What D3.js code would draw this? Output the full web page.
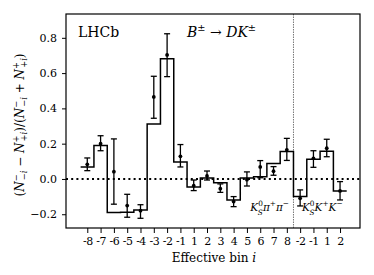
<!DOCTYPE html>
<html>
<head>
<meta charset="utf-8">
<script src="https://cdn.jsdelivr.net/npm/d3@7"></script>
<style>
  body { margin: 0; background: #fff; }
  svg { display: block; }
  .axis text { font-family: "DejaVu Serif", "Liberation Serif", serif; font-size: 11px; fill: #000; }
  .axis line { stroke: #000; stroke-width: 1; }
  .lbl { font-family: "DejaVu Serif", "Liberation Serif", serif; fill: #000; }
</style>
</head>
<body>
<div id="chart"></div>
<script>
/* CONSTANTS AND GLOBALS */
const width = 374,
  height = 275,
  margin = { top: 14, bottom: 47, left: 66, right: 14 };

// bin labels along the x axis (K0S pi pi bins, then K0S K K bins)
const binLabels = ["-8","-7","-6","-5","-4","-3","-2","-1","1","2","3","4","5","6","7","8","-2","-1","1","2"];
// stepped histogram (expected asymmetry)
const stepValues = [0.068, 0.189, -0.190, -0.189, -0.176, 0.312, 0.682, 0.096, -0.045, 0.005,
  -0.021, -0.119, 0.006, 0.013, 0.088, 0.155, -0.100, 0.111, 0.157, -0.068];
// measured points with error bars
const pointValues = [0.083, 0.200, 0.041, -0.151, -0.180, 0.465, 0.703, 0.128, -0.038, 0.017,
  -0.055, -0.128, -0.004, 0.068, 0.044, 0.165, -0.110, 0.117, 0.174, -0.068];
const errLow = [0.047, 0.160, -0.143, -0.217, -0.223, 0.344, 0.580, 0.068, -0.066, -0.006,
  -0.076, -0.157, -0.040, 0.007, 0.021, 0.105, -0.153, 0.066, 0.126, -0.119];
const errHigh = [0.119, 0.245, 0.227, -0.087, -0.146, 0.582, 0.823, 0.195, -0.006, 0.045,
  -0.028, -0.100, 0.040, 0.104, 0.070, 0.230, -0.062, 0.160, 0.225, -0.015];
const yTicks = [-0.2, 0.0, 0.2, 0.4, 0.6, 0.8];
const splitAt = 15.5; // boundary between the two D decay modes

const svg = d3.select("#chart").append("svg")
  .attr("width", width)
  .attr("height", height);

// + SCALES
const xScale = d3.scaleLinear()
  .domain([-1.6, 20.5])
  .range([margin.left, width - margin.right]);
const yScale = d3.scaleLinear()
  .domain([-0.278, 0.935])
  .range([height - margin.bottom, margin.top]);

// + AXES
const xAxis = d3.axisBottom(xScale)
  .tickValues(d3.range(binLabels.length))
  .tickFormat(i => binLabels[i])
  .tickSize(5)
  .tickSizeOuter(0)
  .tickPadding(4);
const yAxis = d3.axisLeft(yScale)
  .tickValues(yTicks)
  .tickFormat(d3.format(".1f"))
  .tickSize(4)
  .tickSizeOuter(0)
  .tickPadding(5);

svg.append("g")
  .attr("class", "axis x-axis")
  .attr("transform", `translate(0,${height - margin.bottom})`)
  .call(xAxis)
  .call(g => g.select(".domain").remove())
  .call(g => g.selectAll("text").attr("letter-spacing", -0.5));

svg.append("g")
  .attr("class", "axis y-axis")
  .attr("transform", `translate(${margin.left},0)`)
  .call(yAxis)
  .call(g => g.select(".domain").remove());

// dotted zero line
svg.append("line")
  .attr("x1", margin.left).attr("x2", width - margin.right)
  .attr("y1", yScale(0)).attr("y2", yScale(0))
  .attr("stroke", "#000")
  .attr("stroke-width", 2)
  .attr("stroke-dasharray", "2,3.2");

// split between the modes
svg.append("line")
  .attr("x1", xScale(splitAt)).attr("x2", xScale(splitAt))
  .attr("y1", margin.top).attr("y2", height - margin.bottom)
  .attr("stroke", "#777")
  .attr("stroke-width", 1)
  .attr("stroke-dasharray", "1.5,1");

// stepped histogram
const stepPts = [];
stepValues.forEach((v, i) => {
  stepPts.push([i - 0.5, v]);
  stepPts.push([i + 0.5, v]);
});
const stepLine = d3.line()
  .x(d => xScale(d[0]))
  .y(d => yScale(d[1]));
svg.append("path")
  .datum(stepPts)
  .attr("d", stepLine)
  .attr("fill", "none")
  .attr("stroke", "#000")
  .attr("stroke-width", 1.5);

// error bars
const cap = 3;
const bars = svg.append("g").attr("stroke", "#000").attr("stroke-width", 1.3);
pointValues.forEach((v, i) => {
  const x = xScale(i);
  bars.append("line").attr("x1", x).attr("x2", x)
    .attr("y1", yScale(errLow[i])).attr("y2", yScale(errHigh[i]));
  bars.append("line").attr("x1", x - cap).attr("x2", x + cap)
    .attr("y1", yScale(errLow[i])).attr("y2", yScale(errLow[i]));
  bars.append("line").attr("x1", x - cap).attr("x2", x + cap)
    .attr("y1", yScale(errHigh[i])).attr("y2", yScale(errHigh[i]));
});
svg.append("g")
  .selectAll("circle")
  .data(pointValues)
  .join("circle")
  .attr("cx", (d, i) => xScale(i))
  .attr("cy", d => yScale(d))
  .attr("r", 1.9)
  .attr("fill", "#000");

// frame
svg.append("rect")
  .attr("x", margin.left).attr("y", margin.top)
  .attr("width", width - margin.right - margin.left)
  .attr("height", height - margin.bottom - margin.top)
  .attr("fill", "none")
  .attr("stroke", "#000")
  .attr("stroke-width", 1.2);

// rich text helper: parts = [text, {italic, sup, sub, back}]
function richText(sel, parts, size, supUp = 0.42, subDown = 0.25) {
  let shift = 0;
  parts.forEach(([t, o]) => {
    o = o || {};
    const target = o.sup ? -supUp * size : o.sub ? subDown * size : 0;
    const ts = sel.append("tspan")
      .attr("dy", target - shift)
      .attr("font-size", (o.sup || o.sub) ? size * 0.7 : size)
      .attr("font-style", o.italic ? "italic" : "normal")
      .text(t);
    if (o.back) ts.attr("dx", -o.back);
    shift = target;
  });
}

// title texts
svg.append("text").attr("class", "lbl")
  .attr("x", 78).attr("y", 37)
  .attr("font-size", 14)
  .text("LHCb");

richText(svg.append("text").attr("class", "lbl").attr("x", 187).attr("y", 37), [
  ["B", { italic: true }], ["±", { sup: true }], [" → ", {}], ["DK", { italic: true }], ["±", { sup: true }]
], 14);

// mode labels
richText(svg.append("text").attr("class", "lbl").attr("x", 289).attr("y", 211).attr("text-anchor", "end"), [
  ["K", { italic: true }], ["0", { sup: true }], ["S", { sub: true, italic: true, back: 5 }],
  ["π", { italic: true }], ["+", { sup: true }], ["π", { italic: true }], ["−", { sup: true }]
], 10.5, 0.5, 0.38);
richText(svg.append("text").attr("class", "lbl").attr("x", 302).attr("y", 211), [
  ["K", { italic: true }], ["0", { sup: true }], ["S", { sub: true, italic: true, back: 5 }],
  ["K", { italic: true }], ["+", { sup: true }], ["K", { italic: true }], ["−", { sup: true }]
], 10.5, 0.5, 0.38);

// x label
richText(svg.append("text").attr("class", "lbl")
  .attr("x", 214).attr("y", 262).attr("text-anchor", "middle"), [
  ["Effective bin ", {}], ["i", { italic: true }]
], 12);

// y label
const yl = svg.append("text").attr("class", "lbl")
  .attr("transform", `translate(24,${(margin.top + height - margin.bottom) / 2 + 4}) rotate(-90)`)
  .attr("text-anchor", "middle");
richText(yl, [
  ["(", {}], ["N", { italic: true }], ["−", { sup: true }], ["−i", { sub: true, italic: true, back: 6 }],
  [" − ", {}], ["N", { italic: true }], ["+", { sup: true }], ["+i", { sub: true, italic: true, back: 6 }],
  [")/(", {}], ["N", { italic: true }], ["−", { sup: true }], ["−i", { sub: true, italic: true, back: 6 }],
  [" + ", {}], ["N", { italic: true }], ["+", { sup: true }], ["+i", { sub: true, italic: true, back: 6 }],
  [")", {}]
], 12);
</script>
</body>
</html>
